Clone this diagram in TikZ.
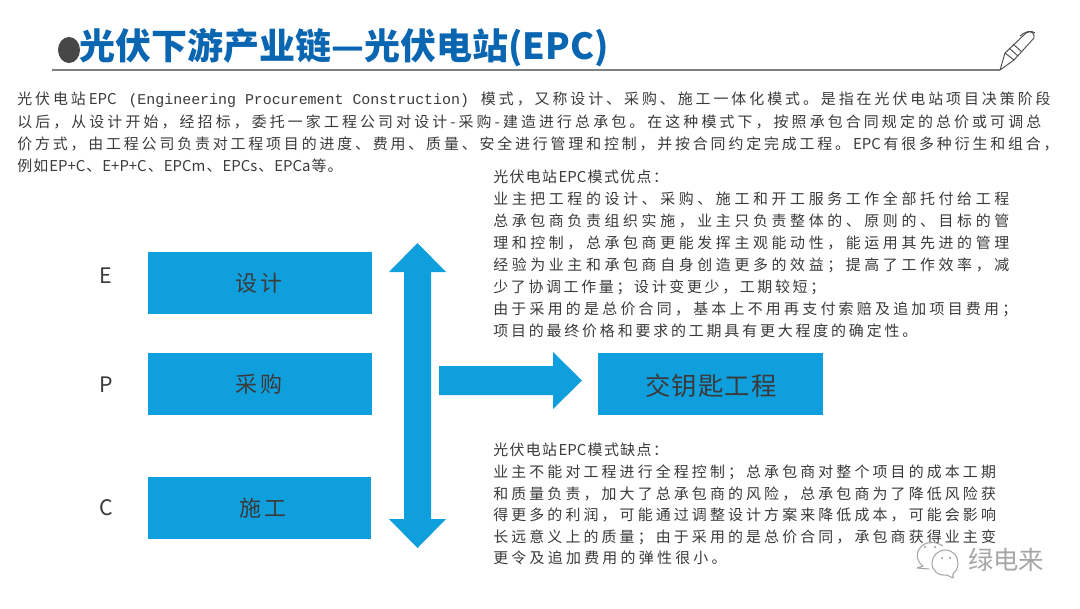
\documentclass[tikz,border=0pt]{standalone}
\usepackage{fontspec}
\setmainfont{Noto Sans CJK SC}
\newfontfamily\latinmono{Liberation Mono}
\definecolor{boxblue}{HTML}{0F9FDC}
\definecolor{titleblue}{HTML}{0B66B2}
\definecolor{bodygray}{HTML}{3A3A3A}
\makeatletter
\newcommand{\fitline}[2]{\hbox to #1{\@tfor\fit@ch:=#2\do{\fit@ch\hfil}\unskip}}
\makeatother
\tikzset{
  x=0.75pt,y=-0.75pt,
  textline/.style={anchor=west,inner sep=0pt,text=bodygray,font=\fontsize{11.2pt}{13pt}\selectfont},
  boxtext/.style={inner sep=0pt,text=bodygray,font=\fontsize{16.5pt}{18pt}\selectfont},
  sidelabel/.style={inner sep=0pt,text=bodygray,font=\fontsize{16pt}{18pt}\selectfont},
  bigarrow/.style={fill=boxblue,draw=none},
  penline/.style={draw=black!70,line width=0.7pt,line join=round},
  wechat/.style={draw=black!35,line width=0.8pt,line join=round}
}
\begin{document}
\begin{tikzpicture}
\useasboundingbox (0,0) rectangle (1080,608);
% title
\fill[black!72] (69,50) ellipse (11 and 13);
\node[inner sep=0pt,anchor=west,text=titleblue,font=\fontsize{27pt}{30pt}\selectfont\bfseries] (title) at (79,48) {\fitline{396pt}{光伏下游产业链—光伏电站{(EPC)}}};
\draw[black!50,line width=1.2pt] (52,70) -- (1000,70);
% pen
\draw[penline] (1000,70) -- (1005,53) -- (1026,33) .. controls (1031,30) and (1035,33) .. (1034,38) -- (1014,60) -- cycle;
\draw[penline] (1005,53) -- (1014,60);
\draw[penline] (1009,48) -- (1018,56);
\draw[penline] (1013,44) -- (1022,52);
\draw[penline] (1020,36) .. controls (1026,31) and (1031,30) .. (1035,33);
% intro
\node[textline] (p1) at (17,100) {\fitline{775pt}{光伏电站{EPC}{{\latinmono\fontsize{11.2pt}{13pt}\selectfont\ (Engineering Procurement Construction)\ }}模式，又称设计、采购、施工一体化模式。是指在光伏电站项目决策阶段}};
\node[textline] (p2) at (17,122) {\fitline{768pt}{以后，从设计开始，经招标，委托一家工程公司对设计-采购-建造进行总承包。在这种模式下，按照承包合同规定的总价或可调总}};
\node[textline] (p3) at (17,144) {\fitline{781pt}{价方式，由工程公司负责对工程项目的进度、费用、质量、安全进行管理和控制，并按合同约定完成工程。{EPC}有很多种衍生和组合，}};
\node[textline] (p4) at (17,166) {\fitline{244pt}{例如{EP+C}、{E+P+C}、{EPCm}、{EPCs}、{EPCa}等。}};
% advantages
\node[textline] (a0) at (493,177) {\fitline{131pt}{光伏电站{EPC}模式优点：}};
\node[textline] (a1) at (493,199) {\fitline{387pt}{业主把工程的设计、采购、施工和开工服务工作全部托付给工程}};
\node[textline] (a2) at (493,221) {\fitline{387pt}{总承包商负责组织实施，业主只负责整体的、原则的、目标的管}};
\node[textline] (a3) at (493,243) {\fitline{387pt}{理和控制，总承包商更能发挥主观能动性，能运用其先进的管理}};
\node[textline] (a4) at (493,265) {\fitline{387pt}{经验为业主和承包商自身创造更多的效益；提高了工作效率，减}};
\node[textline] (a5) at (493,287) {\fitline{249pt}{少了协调工作量；设计变更少，工期较短；}};
\node[textline] (a6) at (493,309) {\fitline{393pt}{由于采用的是总价合同，基本上不用再支付索赔及追加项目费用；}};
\node[textline] (a7) at (493,331) {\fitline{318pt}{项目的最终价格和要求的工期具有更大程度的确定性。}};
% disadvantages
\node[textline] (d0) at (493,450) {\fitline{131pt}{光伏电站{EPC}模式缺点：}};
\node[textline] (d1) at (493,472) {\fitline{377pt}{业主不能对工程进行全程控制；总承包商对整个项目的成本工期}};
\node[textline] (d2) at (493,494) {\fitline{377pt}{和质量负责，加大了总承包商的风险，总承包商为了降低风险获}};
\node[textline] (d3) at (493,515) {\fitline{377pt}{得更多的利润，可能通过调整设计方案来降低成本，可能会影响}};
\node[textline] (d4) at (493,537) {\fitline{377pt}{长远意义上的质量；由于采用的是总价合同，承包商获得业主变}};
\node[textline] (d5) at (493,558) {\fitline{175pt}{更令及追加费用的弹性很小。}};
% labels
\node[sidelabel] (E) at (106,276) {E};
\node[sidelabel] (P) at (106,385) {P};
\node[sidelabel] (C) at (106,508) {C};
% boxes
\fill[boxblue] (148,252) rectangle (372,314);
\node[boxtext] (design) at (259,283) {\fitline{36pt}{设计}};
\fill[boxblue] (148,353) rectangle (372,415);
\node[boxtext] (buy) at (259,384) {\fitline{36pt}{采购}};
\fill[boxblue] (148,477) rectangle (371,539);
\node[boxtext] (build) at (263,508) {\fitline{36pt}{施工}};
\fill[boxblue] (598,353) rectangle (823,415);
\node[boxtext,font=\fontsize{19pt}{21pt}\selectfont] (key) at (711,386) {\fitline{99pt}{交钥匙工程}};
% arrows
\fill[bigarrow] (417.5,243) -- (446,272) -- (431,272) -- (431,519) -- (446,519) -- (417.5,548) -- (389,519) -- (404,519) -- (404,272) -- (389,272) -- cycle;
\fill[bigarrow] (439,366) -- (553,366) -- (553,352) -- (582,380.5) -- (553,409) -- (553,395) -- (439,395) -- cycle;
% watermark
\draw[wechat] (943,546) .. controls (936,541) and (925,541) .. (920,548) .. controls (915,554) and (917,562) .. (923,566) -- (917,568) -- (929,569);
\draw[wechat] (932,563) .. controls (932,556) and (938,550) .. (945,550) .. controls (953,550) and (958,556) .. (958,563) .. controls (958,569) and (955,572) .. (953,574) -- (953,578) -- (947,575) .. controls (938,576) and (932,571) .. (932,563) -- cycle;
\fill[black!40] (942,558) circle (1.1) (950,558) circle (1.1) (925,547) circle (1.1) (935,547) circle (1.1);
\node[inner sep=0pt,text=black!35,font=\fontsize{19pt}{21pt}\selectfont] (mark) at (1006,560) {绿电来};
\end{tikzpicture}
\end{document}
